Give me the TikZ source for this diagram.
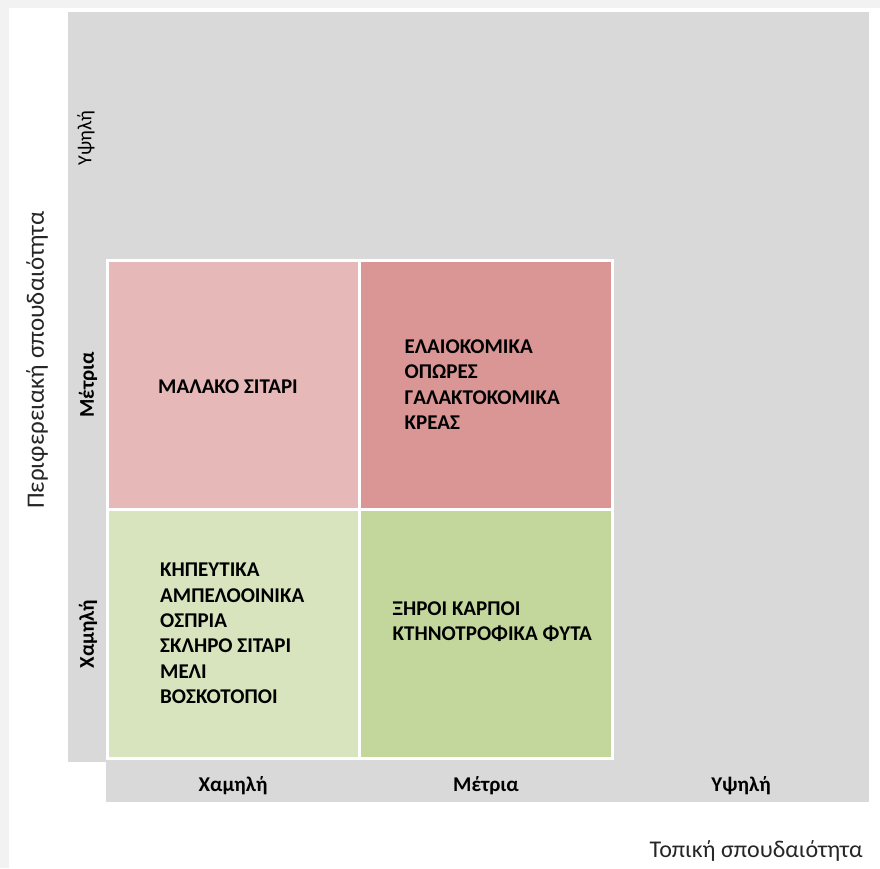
\documentclass[tikz,border=0pt]{standalone}
\usepackage{fontspec}
\setmainfont{Carlito}
\usetikzlibrary{positioning}
\usepackage{xcolor}
\definecolor{framegray}{HTML}{F2F2F2}
\definecolor{axisgray}{HTML}{D9D9D9}
\definecolor{pinklight}{HTML}{E6B9B8}
\definecolor{pinkdark}{HTML}{D99694}
\definecolor{greenlight}{HTML}{D7E4BD}
\definecolor{greendark}{HTML}{C3D69B}

\begin{document}
\begin{tikzpicture}[x=1pt, y=-1pt,
        cell/.style={draw=white, line width=3pt, outer sep=0pt, minimum width=252.5pt, minimum height=249pt},
        item/.style={inner sep=0pt, align=left, font=\fontsize{21}{25.4}\selectfont\bfseries, text=black},
        catlab/.style={inner sep=0pt, font=\fontsize{21}{24}\selectfont\bfseries, text=black},
        title/.style={inner sep=0pt, font=\fontsize{24}{28}\selectfont, text=black!85}]
      \useasboundingbox (0,0) rectangle (880,868);
      \fill[framegray] (0,0) rectangle (880,868);
      \fill[white] (9,8) rectangle (880,868);
      % grey frame of the matrix
      \fill[axisgray] (68,12) rectangle (869,762);
      \fill[axisgray] (106,762) rectangle (869,802);
      % the four coloured cells
      \node[cell, fill=pinklight] (soft) at (233.25,384.5) {};
      \node[cell, fill=pinkdark, right=0pt of soft] (olive) {};
      \node[cell, fill=greenlight, below=0pt of soft] (veg) {};
      \node[cell, fill=greendark, right=0pt of veg] (nuts) {};
      \node[item, anchor=west, yshift=-2pt] (softt) at ([xshift=51pt]soft.west) {ΜΑΛΑΚΟ ΣΙΤΑΡΙ};
      \node[item, anchor=west] (olivet) at ([xshift=45pt]olive.west) {ΕΛΑΙΟΚΟΜΙΚΑ\\ΟΠΩΡΕΣ\\ΓΑΛΑΚΤΟΚΟΜΙΚΑ\\ΚΡΕΑΣ};
      \node[item, anchor=west] (vegt) at ([xshift=53pt]veg.west) {ΚΗΠΕΥΤΙΚΑ\\ΑΜΠΕΛΟΟΙΝΙΚΑ\\ΟΣΠΡΙΑ\\ΣΚΛΗΡΟ ΣΙΤΑΡΙ\\ΜΕΛΙ\\ΒΟΣΚΟΤΟΠΟΙ};
      \node[item, anchor=west, yshift=12pt] (nutst) at ([xshift=33pt]nuts.west) {ΞΗΡΟΙ ΚΑΡΠΟΙ\\ΚΤΗΝΟΤΡΟΦΙΚΑ ΦΥΤΑ};
      % row and column levels
      \node[catlab, rotate=90, font=\fontsize{20}{22}\selectfont] (rhigh) at (86,138) {Υψηλή};
      \node[catlab, rotate=90] (rmid) at (88,385) {Μέτρια};
      \node[catlab, rotate=90] (rlow) at (88,634) {Χαμηλή};
      \node[catlab] (clow) at (233,786) {Χαμηλή};
      \node[catlab] (cmid) at (486,786) {Μέτρια};
      \node[catlab] (chigh) at (741,786) {Υψηλή};
      % axis titles
      \node[title, rotate=90, font=\fontsize{25}{28}\selectfont] (ytitle) at (37,360) {Περιφερειακή σπουδαιότητα};
      \node[title, anchor=base east] (xtitle) at (863,857) {Τοπική σπουδαιότητα};
    \end{tikzpicture}
\end{document}
